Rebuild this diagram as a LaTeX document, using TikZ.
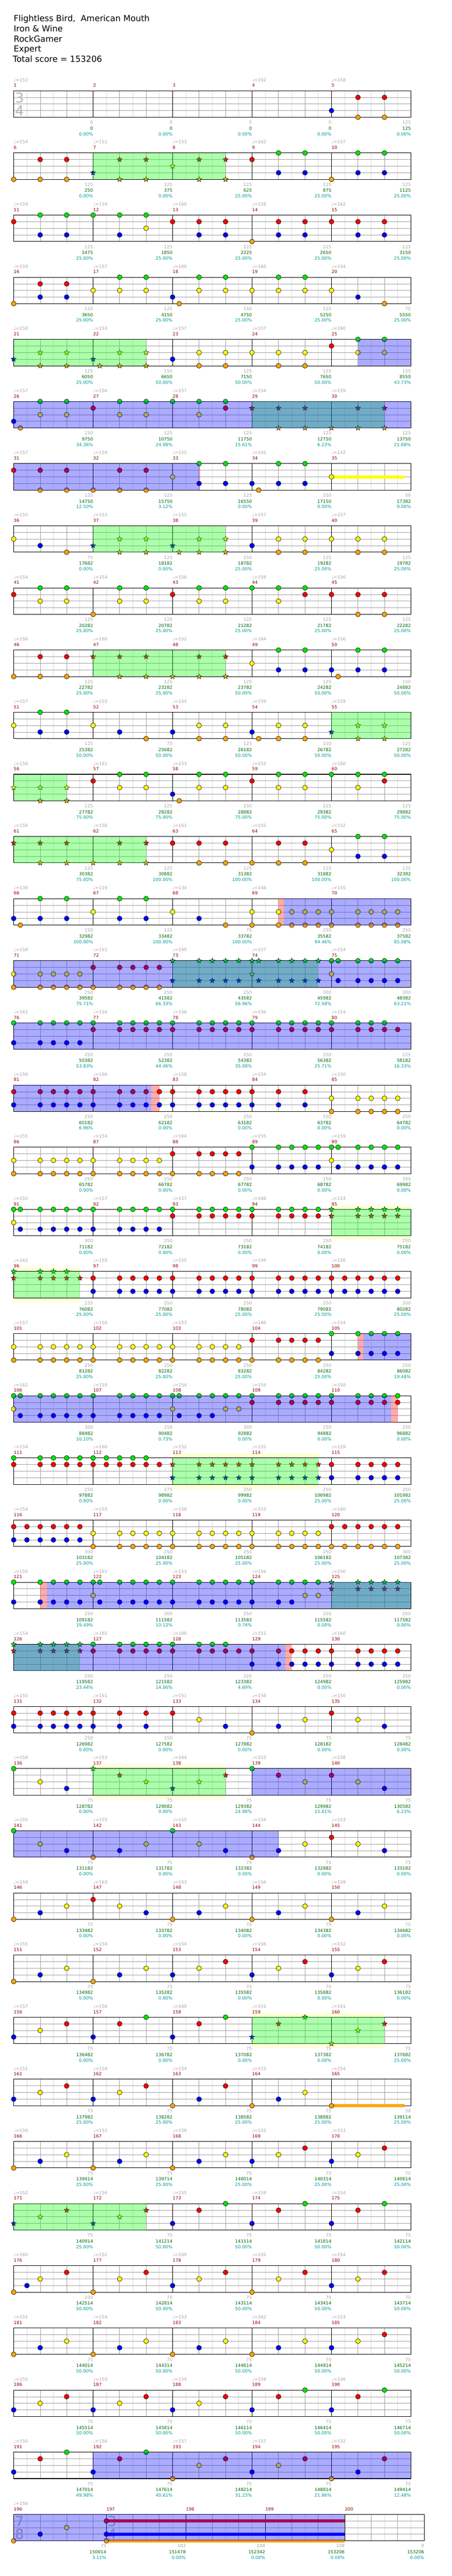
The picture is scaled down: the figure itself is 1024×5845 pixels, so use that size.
\documentclass[tikz,border=0pt]{standalone}
\usepackage{fontspec}
\setmainfont{DejaVu Sans}
\usetikzlibrary{shapes.geometric}

\definecolor{lane0}{RGB}{0,230,0}
\definecolor{lane1}{RGB}{255,0,0}
\definecolor{lane2}{RGB}{255,255,0}
\definecolor{lane3}{RGB}{0,0,255}
\definecolor{lane4}{RGB}{255,165,0}
\definecolor{gridlight}{RGB}{220,220,220}
\definecolor{griddark}{RGB}{160,160,160}
\definecolor{labelgray}{RGB}{165,165,165}
\definecolor{measred}{RGB}{150,0,0}
\definecolor{totgreen}{RGB}{0,100,0}
\definecolor{pctcyan}{RGB}{0,153,153}
\definecolor{soloyellow}{RGB}{255,255,215}
\definecolor{siggray}{RGB}{180,180,180}

\tikzset{
  halfbeat/.style={draw=gridlight,line width=0.8pt},
  beatline/.style={draw=griddark,line width=0.8pt},
  laneline/.style={draw=griddark,line width=0.9pt},
  barline/.style={draw=black,line width=0.9pt},
  staffbox/.style={draw=black,line width=1.2pt},
  gem/.style={circle,draw=black,line width=0.7pt,minimum size=11pt,inner sep=0pt},
  stargem/.style={star,star points=5,star point ratio=2.3,draw=black,line width=0.6pt,minimum size=12.5pt,inner sep=0pt},
  odfill/.style={fill=green,fill opacity=0.33},
  spfill/.style={fill=blue,fill opacity=0.33},
  endfill/.style={fill=red,fill opacity=0.33},
  solofill/.style={fill=soloyellow},
  titleline/.style={anchor=base west,inner sep=0pt,font=\fontsize{19}{23}\selectfont},
  bpmlabel/.style={anchor=base west,inner sep=0pt,text=labelgray,font=\fontsize{10}{12}\selectfont},
  measlabel/.style={anchor=base west,inner sep=0pt,text=measred,font=\fontsize{10}{12}\selectfont},
  ptslabel/.style={anchor=base east,inner sep=0pt,text=labelgray,font=\fontsize{10}{12}\selectfont},
  totlabel/.style={anchor=base east,inner sep=0pt,text=totgreen,font=\fontsize{10}{12}\selectfont},
  pctlabel/.style={anchor=base east,inner sep=0pt,text=pctcyan,font=\fontsize{10}{12}\selectfont},
  timesig/.style={anchor=base west,inner sep=0pt,text=siggray,font=\fontsize{31}{31}\selectfont}
}

% one row of five 3/4 measures: row index, bpm/points/total/percent per measure
\newcommand{\chartrow}[2]{%
  \begin{scope}[shift={(0,{206+141*#1})}]
    \fill[white] (31,0) rectangle (931,60);
    \foreach \e in {1,...,29} \draw[halfbeat] ({31+30*\e},0) -- ++(0,60);
    \foreach \e in {2,4,8,10,14,16,20,22,26,28} \draw[beatline] ({31+30*\e},0) -- ++(0,60);
    \foreach \y in {15,30,45} \draw[laneline] (31,\y) -- (931,\y);
    \foreach \e in {6,12,18,24} \draw[barline] ({31+30*\e},0) -- ++(0,60);
    \draw[staffbox] (31,0) rectangle (931,60);
    \foreach \bpm/\pts/\tot/\pct [count=\i from 0] in {#2} {
      \pgfmathtruncatemacro{\mnum}{5*#1+\i+1}
      \ifnum\bpm>0 \node[bpmlabel] (bpm\mnum) at ({31+180*\i},-21) {♩=\bpm};\fi
      \node[measlabel] (meas\mnum) at ({31+180*\i},-8.5) {\mnum};
      \node[ptslabel] (pts\mnum) at ({211+180*\i},75.5) {\pts};
      \node[totlabel] (tot\mnum) at ({211+180*\i},89) {\tot};
      \node[pctlabel] (pct\mnum) at ({211+180*\i},101.5) {\pct\%};
    }
  \end{scope}}

% gems: row, list of eighth/lane
\newcommand{\gems}[2]{%
  \foreach \e/\l [count=\n] in {#2}
    \node[gem,fill=lane\l] (gem#1-\n) at ({31+30*\e},{206+141*#1+15*\l}) {};}
\newcommand{\stargems}[2]{%
  \foreach \e/\l [count=\n] in {#2}
    \node[stargem,fill=lane\l] (star#1-\n) at ({31+30*\e},{206+141*#1+15*\l}) {};}

% regions: row, from eighth, to eighth
\newcommand{\odrive}[3]{\fill[odfill] ({31+30*#2},{206+141*#1}) rectangle ({31+30*#3},{266+141*#1});}
\newcommand{\spact}[3]{\fill[spfill] ({31+30*#2},{206+141*#1}) rectangle ({31+30*#3},{266+141*#1});}
\newcommand{\spend}[3]{\fill[endfill] ({31+30*#2},{206+141*#1}) rectangle ({31+30*#3},{266+141*#1});}
\newcommand{\solo}[3]{\fill[solofill] ({31+30*#2},{196+141*#1}) rectangle ({31+30*#3},{276+141*#1});}
% sustain: row, from, to, lane
\newcommand{\sustain}[4]{\fill[lane#4] ({31+30*#2},{202.5+141*#1+15*#4}) rectangle ({31+30*#3},{209.5+141*#1+15*#4});}

\begin{document}
\begin{tikzpicture}[x=1pt,y=-1pt]
\useasboundingbox (0,0) rectangle (1024,5845);

%title
\node[titleline] (song) at (31,49) {Flightless Bird,~ American Mouth};
\node[titleline] (artist) at (31,72) {Iron \& Wine};
\node[titleline] (charter) at (31,95) {RockGamer};
\node[titleline] (level) at (31,118) {Expert};
\node[titleline] (score) at (29,141) {Total score = 153206};

%1-5
\chartrow{0}{152/0/0/0.00,0/0/0/0.00,0/0/0/0.00,152/0/0/0.00,158/125/125/0.00}
\node[timesig] (sigthree) at (34,233) {3};
\node[timesig] (sigfour) at (34,262) {4};
\gems{0}{24/3,26/1,26/4,28/1,28/4}

%6-10
\chartrow{1}{154/125/250/0.00,151/125/375/0.00,153/125/625/25.00,162/125/875/25.00,157/125/1125/25.00}
\gems{1}{0/4,2/1,2/4,4/1,4/4,18/1,20/0,20/3,22/0,22/3,24/4,26/0,26/3,28/0,28/3}
\stargems{1}{6/3,8/1,8/4,10/1,10/4,12/2,14/1,14/4,16/1,16/4}
\odrive{1}{6}{16}

%11-15
\chartrow{2}{159/125/1475/25.00,159/125/1850/25.00,160/125/2225/25.00,158/125/2650/25.00,162/125/3150/25.00}
\gems{2}{0/1,2/0,2/3,4/0,4/3,6/0,8/0,8/3,10/0,10/2,12/1,14/1,14/3,16/1,16/3,18/4,20/1,20/3,22/1,22/3,24/1,26/1,26/3,28/1,28/3}

%16-20
\chartrow{3}{159/125/3650/25.00,157/125/4150/25.00,160/150/4750/25.00,160/125/5250/25.00,154/75/5550/25.00}
\gems{3}{0/4,2/1,2/3,4/1,4/3,6/2,8/0,8/2,10/0,10/2,12/3,12.5/4,14/0,14/2,16/0,16/2,18/2,20/0,20/2,22/0,22/2,24/2,26/3,28/4}

%21-25
\chartrow{4}{158/125/6050/25.00,153/150/6650/50.00,157/125/7150/50.00,157/125/7650/50.00,160/125/8550/43.73}
\gems{4}{12/3,14/2,14/4,16/2,16/4,18/2,20/2,20/4,22/2,22/4,24/1,26/0,26/2,28/0,28/2}
\stargems{4}{0/3,2/2,2/4,4/2,4/4,6/3,6.5/4,8/2,8/4,10/2,10/4}
\odrive{4}{0}{10}
\spact{4}{26}{30}

%26-30
\chartrow{5}{157/150/9750/34.36,156/125/10750/24.98,157/125/11750/15.61,154/125/12750/6.23,159/125/13750/21.88}
\gems{5}{0/3,0.5/4,2/0,2/2,4/0,4/2,6/1,8/0,8/2,10/0,10/2,12/0,14/0,14/2,16/0,16/1}
\stargems{5}{18/1,20/1,20/4,22/1,22/4,24/4,26/1,26/4,28/1,28/4}
\odrive{5}{18}{28}
\spact{5}{0}{30}

%31-35
\chartrow{6}{157/125/14750/12.50,159/125/15750/3.12,155/125/16550/0.00,141/150/17150/0.00,142/58/17382/0.00}
\spend{6}{14}{14.07}
\sustain{6}{24}{29.5}{2}
\gems{6}{0/1,2/1,2/4,4/1,4/4,6/4,8/1,8/4,10/1,10/4,12/2,14/0,14/3,16/0,16/3,18/3,18.5/4,20/0,20/3,22/0,22/3,24/2}
\spact{6}{0}{14}

%36-40
\chartrow{7}{150/75/17682/0.00,153/125/18182/0.00,155/150/18782/25.00,157/125/19282/25.00,157/125/19782/25.00}
\gems{7}{0/2,2/3,4/4,18/3,20/2,20/4,22/2,22/4,24/2,26/2,26/4,28/2,28/4}
\stargems{7}{6/3,8/2,8/4,10/2,10/4,12/3,12.5/4,14/2,14/4,16/2,16/4}
\odrive{7}{6}{16}

%41-45
\chartrow{8}{154/125/20282/25.00,154/125/20782/25.00,156/125/21282/25.00,159/125/21782/25.00,156/125/22282/25.00}
\gems{8}{0/1,2/0,2/2,4/0,4/2,6/4,8/0,8/2,10/0,10/2,12/1,14/0,14/2,16/0,16/2,18/0,20/0,20/2,22/0,22/1,24/1,26/1,26/4,28/1,28/4}

%46-50
\chartrow{9}{156/125/22782/25.00,160/125/23282/25.00,152/125/23782/50.00,164/125/24282/50.00,156/150/24882/50.00}
\gems{9}{0/4,2/1,2/4,4/1,4/4,18/2,20/0,20/3,22/0,22/3,24/3,24.5/4,26/0,26/3,28/0,28/3}
\stargems{9}{6/1,8/1,8/4,10/1,10/4,12/4,14/1,14/4,16/1,16/4}
\odrive{9}{6}{16}

%51-55
\chartrow{10}{157/125/25382/50.00,155/75/25682/50.00,154/125/26182/50.00,159/150/26782/50.00,159/125/27282/50.00}
\gems{10}{0/2,2/0,2/3,4/0,4/3,6/2,8/3,10/4,12/3,14/2,14/4,16/2,16/4,18/3,18.5/4,20/2,20/4,22/2,22/4}
\stargems{10}{24/3,26/2,26/4,28/2,28/4}
\odrive{10}{24}{30}

%56-60
\chartrow{11}{156/125/27782/75.00,161/125/28282/75.00,153/150/28882/75.00,155/125/29382/75.00,160/125/29882/75.00}
\gems{11}{6/1,8/0,8/2,10/0,10/2,12/3,12.5/4,14/0,14/2,16/0,16/2,18/1,20/0,20/2,22/0,22/2,24/0,26/0,26/2,28/0,28/1}
\stargems{11}{0/2,2/2,2/4,4/2,4/4}
\odrive{11}{0}{4}

%61-65
\chartrow{12}{156/125/30382/75.00,156/125/30882/100.00,161/125/31382/100.00,155/125/31882/100.00,152/125/32382/100.00}
\gems{12}{12/1,14/1,14/4,16/1,16/4,18/4,20/1,20/4,22/1,22/4,24/2,26/0,26/3,28/0,28/3}
\stargems{12}{0/1,2/1,2/4,4/1,4/4,6/4,8/1,8/4,10/1,10/4}
\odrive{12}{0}{10}

%66-70
\chartrow{13}{139/150/32982/100.00,119/125/33482/100.00,134/75/33782/100.00,146/250/35582/94.46,155/250/37582/85.08}
\spend{13}{20}{20.4}
\gems{13}{0/3,0.5/4,2/0,2/3,4/0,4/3,6/2,8/0,8/3,10/0,10/3,12/2,14/3,16/4,18/2,18/4,20/2,20/4,21/2,21/4,22/2,22/4,23/2,23/4,24/2,24/4,26/2,26/4,27/2,27/4,28/2,28/4,29/2,29/4}
\spact{13}{20.4}{30}

%71-75
\chartrow{14}{158/250/39582/75.71,151/250/41582/66.33,160/250/43582/56.96,157/300/45982/72.58,154/300/48382/63.21}
\gems{14}{0/2,0/4,2/2,2/4,3/2,3/4,4/2,4/4,5/2,5/4,6/1,6/4,8/1,8/4,9/1,9/4,10/1,10/4,11/1,11/4,24/0,24/2,24.5/0,24.5/3,26/0,26/3,27/0,27/3,28/0,28/3,29/0,29/3}
\stargems{14}{12/0,12/3,14/0,14/3,15/0,15/3,16/0,16/3,17/0,17/3,18/0,18/2,18.5/0,18.5/3,20/0,20/3,21/0,21/3,22/0,22/3,23/0,23/3}
\odrive{14}{12}{23}
\spact{14}{0}{30}

%76-80
\chartrow{15}{161/250/50382/53.83,156/250/52382/44.46,158/250/54382/35.08,156/250/56382/25.71,154/225/58182/16.33}
\gems{15}{0/0,0/3,2/0,2/3,3/0,3/3,4/0,4/3,5/0,5/3,6/0,6/1,8/0,8/1,9/0,9/1,10/0,10/1,11/0,11/1,12/0,12/1,14/0,14/1,15/0,15/1,16/0,16/1,17/0,17/1,18/0,18/1,20/0,20/1,21/0,21/1,22/0,22/1,23/0,23/1,24/0,24/1,26/0,26/1,27/0,27/1,28/0,28/1,29/1}
\spact{15}{0}{30}

%81-85
\chartrow{16}{156/250/60182/6.96,166/250/62182/0.00,158/250/63182/0.00,154/150/63782/0.00,150/250/64782/0.00}
\spend{16}{10.4}{11}
\gems{16}{0/1,0/3,2/1,2/3,3/1,3/3,4/1,4/3,5/1,5/3,6/1,6/3,8/1,8/3,9/1,9/3,10/1,10/3,11/1,11/3,12/1,12/3,14/1,14/3,15/1,15/3,16/1,16/3,17/1,17/3,18/1,18/3,20/1,20/3,22/1,22/3,24/2,24/4,26/2,26/4,27/2,27/4,28/2,28/4,29/2,29/4}
\spact{16}{0}{10.4}

%86-90
\chartrow{17}{155/250/65782/0.00,154/250/66782/0.00,164/250/67782/0.00,155/250/68782/0.00,159/300/69982/0.00}
\gems{17}{0/2,0/4,2/2,2/4,3/2,3/4,4/2,4/4,5/2,5/4,6/2,6/4,8/2,8/4,9/2,9/4,10/2,10/4,11/2,11/4,12/1,12/4,14/1,14/4,15/1,15/4,16/1,16/4,17/1,17/4,18/0,18/3,20/0,20/3,21/0,21/3,22/0,22/3,23/0,23/3,24/0,24/2,24.5/0,24.5/3,26/0,26/3,27/0,27/3,28/0,28/3,29/0,29/3}

%91-95
\solo{18}{24}{30}
\chartrow{18}{150/300/71182/0.00,157/250/72182/0.00,157/250/73182/0.00,166/250/74182/0.00,153/250/75182/0.00}
\gems{18}{0/0,0/2,0.5/0,0.5/3,2/0,2/3,3/0,3/3,4/0,4/3,5/0,5/3,6/0,6/3,8/0,8/3,9/0,9/3,10/0,10/3,11/0,11/3,12/0,12/1,14/0,14/1,15/0,15/1,16/0,16/1,17/0,17/1,18/0,18/1,20/0,20/1,21/0,21/1,22/0,22/1,23/0,23/1}
\stargems{18}{24/0,24/1,26/0,26/1,27/0,27/1,28/0,28/1,29/0,29/1}
\odrive{18}{24}{30}

%96-100
\solo{19}{0}{5}
\chartrow{19}{162/225/76082/25.00,155/250/77082/25.00,155/250/78082/25.00,149/250/79082/25.00,156/300/80282/25.00}
\gems{19}{6/1,6/3,8/1,8/3,9/1,9/3,10/1,10/3,11/1,11/3,12/1,12/3,14/1,14/3,15/1,15/3,16/1,16/3,17/1,17/3,18/1,18/3,20/1,20/3,21/1,21/3,22/1,22/3,23/1,23/3,24/1,24/3,25/1,25/3,26/1,26/3,27/1,27/3,28/1,28/3,29/1,29/3}
\stargems{19}{0/0,0/1,2/0,2/1,3/0,3/1,4/0,4/1,5/1}
\odrive{19}{0}{5}

%101-105
\chartrow{20}{157/250/81282/25.00,156/250/82282/25.00,153/250/83282/25.00,160/250/84282/25.00,154/250/86082/19.48}
\spend{20}{26}{26.4}
\gems{20}{0/2,0/4,2/2,2/4,3/2,3/4,4/2,4/4,5/2,5/4,6/2,6/4,8/2,8/4,9/2,9/4,10/2,10/4,11/2,11/4,12/2,12/4,14/2,14/4,15/2,15/4,16/2,16/4,17/2,17/4,18/1,18/4,20/1,20/4,21/1,21/4,22/1,22/4,23/1,23/4,24/0,24/3,26/0,26/3,27/0,27/3,28/0,28/3,29/0,29/3}
\spact{20}{26.4}{30}

%106-110
\chartrow{21}{162/300/88482/10.10,159/250/90482/0.73,154/300/92882/0.00,154/250/94882/0.00,158/250/96882/0.00}
\spend{21}{28.5}{29}
\gems{21}{0/0,0/2,0.5/0,0.5/3,2/0,2/3,3/0,3/3,4/0,4/3,5/0,5/3,6/0,6/3,8/0,8/3,9/0,9/3,10/0,10/3,11/0,11/3,12/0,12/2,12.5/0,12.5/3,14/0,14/3,15/0,15/3,16/0,16/2,17/0,17/2,18/0,18/1,20/0,20/1,21/0,21/1,22/0,22/1,23/0,23/1,24/0,24/1,26/0,26/1,27/0,27/1,28/0,28/1,29/0,29/1}
\spact{21}{0}{28.5}

%111-115
\solo{22}{12}{23}
\chartrow{22}{154/250/97882/0.00,160/275/98982/0.00,152/250/99982/0.00,155/250/100982/25.00,159/250/101982/25.00}
\gems{22}{0/0,0/1,2/0,2/1,3/0,3/1,4/0,4/1,5/0,5/1,6/0,6/1,7/0,7/1,8/0,8/1,9/0,9/1,10/0,10/1,11/1,24/1,24/3,26/1,26/3,27/1,27/3,28/1,28/3,29/1,29/3}
\stargems{22}{12/1,12/3,14/1,14/3,15/1,15/3,16/1,16/3,17/1,17/3,18/1,18/3,20/1,20/3,21/1,21/3,22/1,22/3,23/1,23/3}
\odrive{22}{12}{23}

%116-120
\chartrow{23}{154/300/103182/25.00,155/250/104182/25.00,158/250/105182/25.00,153/250/106182/25.00,160/300/107382/25.00}
\gems{23}{0/1,0/3,1/1,1/3,2/1,2/3,3/1,3/3,4/1,4/3,5/1,5/3,6/2,6/4,8/2,8/4,9/2,9/4,10/2,10/4,11/2,11/4,12/2,12/4,14/2,14/4,15/2,15/4,16/2,16/4,17/2,17/4,18/2,18/4,20/2,20/4,21/2,21/4,22/2,22/4,23/2,23/4,24/1,24/4,25/1,25/4,26/1,26/4,27/1,27/4,28/1,28/4,29/1,29/4}

%121-125
\chartrow{24}{155/250/109182/19.49,161/300/111582/10.12,153/250/113582/0.74,156/250/115582/0.00,150/250/117582/0.00}
\spend{24}{2}{2.5}
\gems{24}{0/0,0/3,2/0,2/3,3/0,3/3,4/0,4/3,5/0,5/3,6/0,6/2,6.5/0,6.5/3,8/0,8/3,9/0,9/3,10/0,10/3,11/0,11/3,12/0,12/3,14/0,14/3,15/0,15/3,16/0,16/3,17/0,17/3,18/0,18/3,20/0,20/3,21/0,21/3,22/0,22/2,23/0,23/2}
\stargems{24}{24/0,24/1,26/0,26/1,27/0,27/1,28/0,28/1,29/0,29/1}
\odrive{24}{24}{30}
\spact{24}{2.5}{30}

%126-130
\chartrow{25}{154/250/119582/23.44,165/250/121582/14.06,160/225/123382/4.69,151/250/124982/0.00,160/250/125982/0.00}
\spend{25}{20.5}{21}
\gems{25}{6/0,6/1,8/0,8/1,9/0,9/1,10/0,10/1,11/0,11/1,12/0,12/1,14/0,14/1,15/0,15/1,16/0,16/1,17/1,18/1,18/3,20/1,20/3,21/1,21/3,22/1,22/3,23/1,23/3,24/1,24/3,26/1,26/3,27/1,27/3,28/1,28/3,29/1,29/3}
\stargems{25}{0/0,0/1,2/0,2/1,3/0,3/1,4/0,4/1,5/0,5/1}
\odrive{25}{0}{5}
\spact{25}{0}{20.5}

%131-135
\chartrow{26}{155/250/126982/0.00,161/150/127582/0.00,151/75/127882/0.00,158/75/128182/0.00,150/75/128482/0.00}
\gems{26}{0/1,0/3,2/1,2/3,3/1,3/3,4/1,4/3,5/1,5/3,6/1,6/3,8/1,8/3,10/1,10/3,12/1,14/2,16/3,18/4,20/3,22/2,24/1,26/2,28/3}

%136-140
\solo{27}{6}{16}
\chartrow{27}{158/75/128782/0.00,153/75/129082/0.00,164/75/129382/24.98,153/75/129982/15.61,158/75/130582/6.23}
\gems{27}{0/0,2/2,4/3,18/0,20/1,22/2,24/1,26/2,28/3}
\stargems{27}{6/0,8/1,10/2,12/3,14/2,16/1}
\odrive{27}{6}{16}
\spact{27}{18}{30}

%141-145
\chartrow{28}{155/75/131182/0.00,155/75/131782/0.00,155/75/132382/0.00,159/75/132882/0.00,153/75/133182/0.00}
\gems{28}{0/0,2/2,4/3,6/4,8/3,10/2,12/0,14/2,16/3,18/4,20/3,22/2,24/1,26/2,28/3}
\spact{28}{0}{20}

%146-150
\chartrow{29}{159/75/133482/0.00,163/75/133782/0.00,153/75/134082/0.00,156/75/134382/0.00,159/75/134682/0.00}
\gems{29}{0/4,2/3,4/2,6/1,8/2,10/3,12/4,14/3,16/2,18/4,20/3,22/2,24/4,26/3,28/2}

%151-155
\chartrow{30}{155/75/134982/0.00,158/75/135282/0.00,154/75/135582/0.00,156/75/135882/0.00,152/75/136182/0.00}
\gems{30}{0/4,2/3,4/2,6/4,8/3,10/2,12/3,14/2,16/1,18/3,20/2,22/1,24/3,26/2,28/1}

%156-160
\solo{31}{18}{28}
\chartrow{31}{157/75/136482/0.00,156/75/136782/0.00,160/75/137082/0.00,151/75/137382/0.00,161/75/137682/25.00}
\gems{31}{0/3,2/2,4/1,6/3,8/1,10/0,12/3,14/1,16/0}
\stargems{31}{18/3,20/1,22/0,24/4,26/2,28/1}
\odrive{31}{18}{28}

%161-165
\chartrow{32}{151/75/137982/25.00,154/75/138282/25.00,154/75/138582/25.00,153/75/138882/25.00,154/58/139114/25.00}
\sustain{32}{24}{29.5}{4}
\gems{32}{0/3,2/2,4/1,6/3,8/2,10/1,12/4,14/3,16/1,18/4,20/3,22/2,24/4}

%166-170
\chartrow{33}{156/75/139414/25.00,151/75/139714/25.00,156/75/140014/25.00,152/75/140314/25.00,153/75/140614/25.00}
\gems{33}{0/4,2/3,4/2,6/4,8/3,10/2,12/4,14/3,16/2,18/3,20/2,22/1,24/3,26/2,28/1}

%171-175
\chartrow{34}{152/75/140914/25.00,156/75/141214/50.00,155/75/141514/50.00,159/75/141814/50.00,154/75/142114/50.00}
\gems{34}{12/3,14/1,16/0,18/3,20/1,22/0,24/3,26/1,28/0}
\stargems{34}{0/3,2/2,4/1,6/3,8/2,10/1}
\odrive{34}{0}{10}

%176-180
\chartrow{35}{160/100/142514/50.00,152/75/142814/50.00,160/75/143114/50.00,155/75/143414/50.00,154/75/143714/50.00}
\gems{35}{0/4,1/3,2/2,4/1,6/4,8/2,10/1,12/3,14/2,16/1,18/4,20/2,22/1,24/3,26/2,28/1}

%181-185
\chartrow{36}{151/75/144014/50.00,154/75/144314/50.00,153/75/144614/50.00,162/75/144914/50.00,153/75/145214/50.00}
\gems{36}{0/4,2/3,4/2,6/4,8/3,10/2,12/4,14/3,16/2,18/4,20/3,22/2,24/3,26/2,28/1}

%186-190
\chartrow{37}{155/75/145514/50.00,150/75/145814/50.00,154/75/146114/50.00,158/75/146414/50.00,156/75/146714/50.00}
\gems{37}{0/3,2/2,4/1,6/3,8/2,10/1,12/3,14/2,16/1,18/3,20/1,22/0,24/3,26/1,28/0}

%191-195
\chartrow{38}{150/75/147014/49.98,156/75/147614/40.61,157/75/148214/31.23,157/75/148814/21.86,152/75/149414/12.48}
\gems{38}{0/3,2/1,4/0,6/3,8/1,10/0,12/4,14/2,16/1,18/3,20/2,22/1,24/4,26/3,28/1}
\spact{38}{6}{30}

%196-200
\begin{scope}[shift={(0,5705)}]
  \fill[white] (31,0) rectangle (961,60);
  \foreach \e in {1,...,30} \draw[halfbeat] ({31+30*\e},0) -- ++(0,60);
  \foreach \e in {2,4,6,9,11,15,17,21,23,27,29} \draw[beatline] ({31+30*\e},0) -- ++(0,60);
  \foreach \y in {15,30,45} \draw[laneline] (31,\y) -- (961,\y);
  \foreach \e in {7,13,19,25} \draw[barline] ({31+30*\e},0) -- ++(0,60);
  \draw[staffbox] (31,0) rectangle (961,60);
  \node[timesig] (sigseven) at (34,27) {7};
  \node[timesig] (sigeight) at (34,56) {8};
  \node[timesig] (sigthreeb) at (244,27) {3};
  \node[timesig] (sigfourb) at (244,56) {4};
  \node[bpmlabel] (bpm196) at (31,-21) {♩=156};
  \foreach \m/\e/\pts/\tot/\pct in {196/0/75/150014/3.11,197/7/183/151478/0.00,198/13/108/152342/0.00,199/19/108/153206/0.00,200/25/0/153206/0.00} {
    \node[measlabel] (meas\m) at ({31+30*\e},-8.5) {\m};
    \node[ptslabel] (pts\m) at ({211+30*\e+30*(\e==0)},75.5) {\pts};
    \node[totlabel] (tot\m) at ({211+30*\e+30*(\e==0)},89) {\tot};
    \node[pctlabel] (pct\m) at ({211+30*\e+30*(\e==0)},101.5) {\pct\%};
  }
\end{scope}
\sustain{39}{7}{25}{1}
\sustain{39}{7}{25}{3}
\sustain{39}{7}{25}{4}
\gems{39}{0/4,2/3,4/2,7/1,7/3,7/4}
\spact{39}{0}{25}

\end{tikzpicture}
\end{document}
